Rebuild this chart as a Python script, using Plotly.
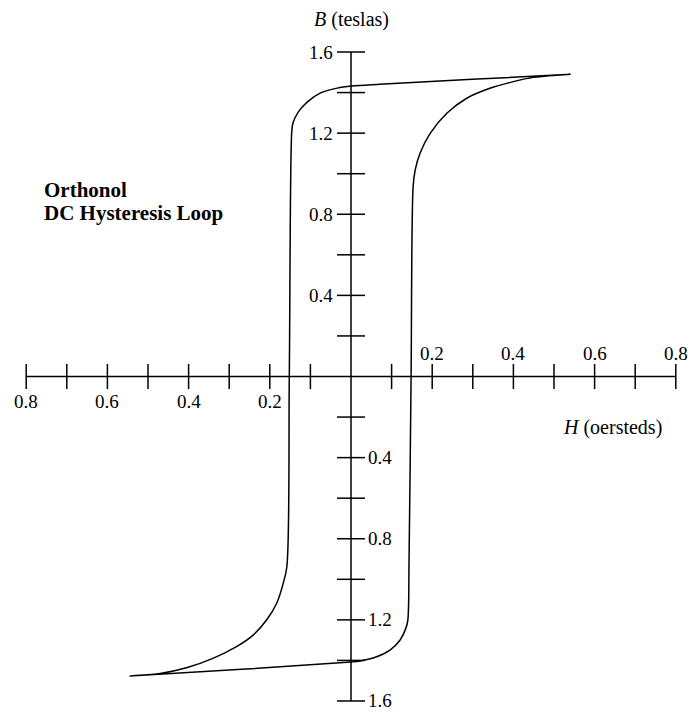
import plotly.graph_objects as go

# ---- data ----
# descending branch: from positive tip to negative tip
desc_H = [0.54, 0.071, 0.002, -0.034, -0.076, -0.108, -0.130, -0.143, -0.146, -0.152, -0.158,
          -0.167, -0.183, -0.208, -0.241, -0.282, -0.340, -0.405, -0.470, -0.544]
desc_B = [1.49, 1.441, 1.432, 1.422, 1.397, 1.353, 1.304, 1.250, 1.205, 0.0, -0.938,
          -1.020, -1.118, -1.201, -1.275, -1.332, -1.390, -1.436, -1.464, -1.477]
# ascending branch: from negative tip to positive tip
asc_H = [-0.544, 0.0, 0.022, 0.063, 0.096, 0.121, 0.135, 0.140, 0.143, 0.148, 0.153,
         0.158, 0.170, 0.195, 0.236, 0.285, 0.342, 0.400, 0.449, 0.515, 0.54]
asc_B = [-1.477, -1.408, -1.403, -1.382, -1.349, -1.299, -1.242, -1.201, -0.904, 0.0, 0.936,
         1.018, 1.101, 1.199, 1.298, 1.372, 1.421, 1.454, 1.475, 1.487, 1.49]

H_ticks = [-0.8, -0.7, -0.6, -0.5, -0.4, -0.3, -0.2, -0.1, 0.1, 0.2, 0.3, 0.4, 0.5, 0.6, 0.7, 0.8]
H_labels = [-0.8, -0.6, -0.4, -0.2, 0.2, 0.4, 0.6, 0.8]
B_ticks = [-1.6, -1.4, -1.2, -1.0, -0.8, -0.6, -0.4, -0.2, 0.2, 0.4, 0.6, 0.8, 1.0, 1.2, 1.4, 1.6]
B_labels = [-1.6, -1.2, -0.8, -0.4, 0.4, 0.8, 1.2, 1.6]
H_range = [-0.8, 0.8]
B_range = [-1.6, 1.6]

FONT = "Liberation Serif"
BLACK = "#000000"
TICK_SIZE = 19
AXIS_TITLE_SIZE = 20
TITLE_SIZE = 21

fig = go.Figure()

# loop
fig.add_trace(go.Scatter(x=desc_H + asc_H[1:], y=desc_B + asc_B[1:], mode="lines",
                         line=dict(color=BLACK, width=1.5, shape="spline", smoothing=0.9),
                         hoverinfo="skip"))

# axes lines
fig.add_trace(go.Scatter(x=H_range, y=[0, 0], mode="lines",
                         line=dict(color=BLACK, width=1.5), hoverinfo="skip"))
fig.add_trace(go.Scatter(x=[0, 0], y=B_range, mode="lines",
                         line=dict(color=BLACK, width=1.5), hoverinfo="skip"))

# tick marks (crossing)
fig.add_trace(go.Scatter(x=H_ticks, y=[0] * len(H_ticks), mode="markers",
                         marker=dict(symbol="line-ns", size=18,
                                     line=dict(color=BLACK, width=1.5)),
                         hoverinfo="skip"))
fig.add_trace(go.Scatter(x=[0] * len(B_ticks), y=B_ticks, mode="markers",
                         marker=dict(symbol="line-ew", size=20,
                                     line=dict(color=BLACK, width=1.5)),
                         hoverinfo="skip"))

ann = []
for h in H_labels:
    ann.append(dict(x=h, y=0, xref="x", yref="y", text=f"{abs(h):.1f}", showarrow=False,
                    xanchor="center", yanchor="middle", yshift=23 if h > 0 else -25,
                    font=dict(family=FONT, size=TICK_SIZE, color=BLACK)))
for b in B_labels:
    ann.append(dict(x=0, y=b, xref="x", yref="y", text=f"{abs(b):.1f}", showarrow=False,
                    xanchor="right" if b > 0 else "left", yanchor="middle",
                    xshift=-16 if b > 0 else 15,
                    font=dict(family=FONT, size=TICK_SIZE, color=BLACK)))

ann.append(dict(x=0, y=1.758, xref="x", yref="y", text="<i>B</i> (teslas)", showarrow=False,
                xanchor="center", yanchor="middle", font=dict(family=FONT, size=AXIS_TITLE_SIZE, color=BLACK)))
ann.append(dict(x=0.770, y=-0.249, xref="x", yref="y", text="<i>H</i> (oersteds)", showarrow=False,
                xanchor="right", yanchor="middle", font=dict(family=FONT, size=AXIS_TITLE_SIZE, color=BLACK)))
ann.append(dict(x=-0.760, y=0.920, xref="x", yref="y", text="<b>Orthonol</b>", showarrow=False,
                xanchor="left", yanchor="middle", font=dict(family=FONT, size=TITLE_SIZE, color=BLACK)))
ann.append(dict(x=-0.760, y=0.806, xref="x", yref="y", text="<b>DC Hysteresis Loop</b>", showarrow=False,
                xanchor="left", yanchor="middle", font=dict(family=FONT, size=TITLE_SIZE, color=BLACK)))

fig.update_layout(
    width=693, height=713,
    margin=dict(l=0, r=0, t=0, b=0),
    paper_bgcolor="white", plot_bgcolor="white",
    showlegend=False,
    xaxis=dict(range=[-351 / 406, (693 - 351) / 406], visible=False, fixedrange=True),
    yaxis=dict(range=[-(713 - 376.5) / 202.8, 376.5 / 202.8], visible=False, fixedrange=True),
    annotations=ann,
)

fig.write_html("out.html", config={"displayModeBar": False},
               post_script="document.body.style.margin='0px';document.body.style.overflow='hidden';")
